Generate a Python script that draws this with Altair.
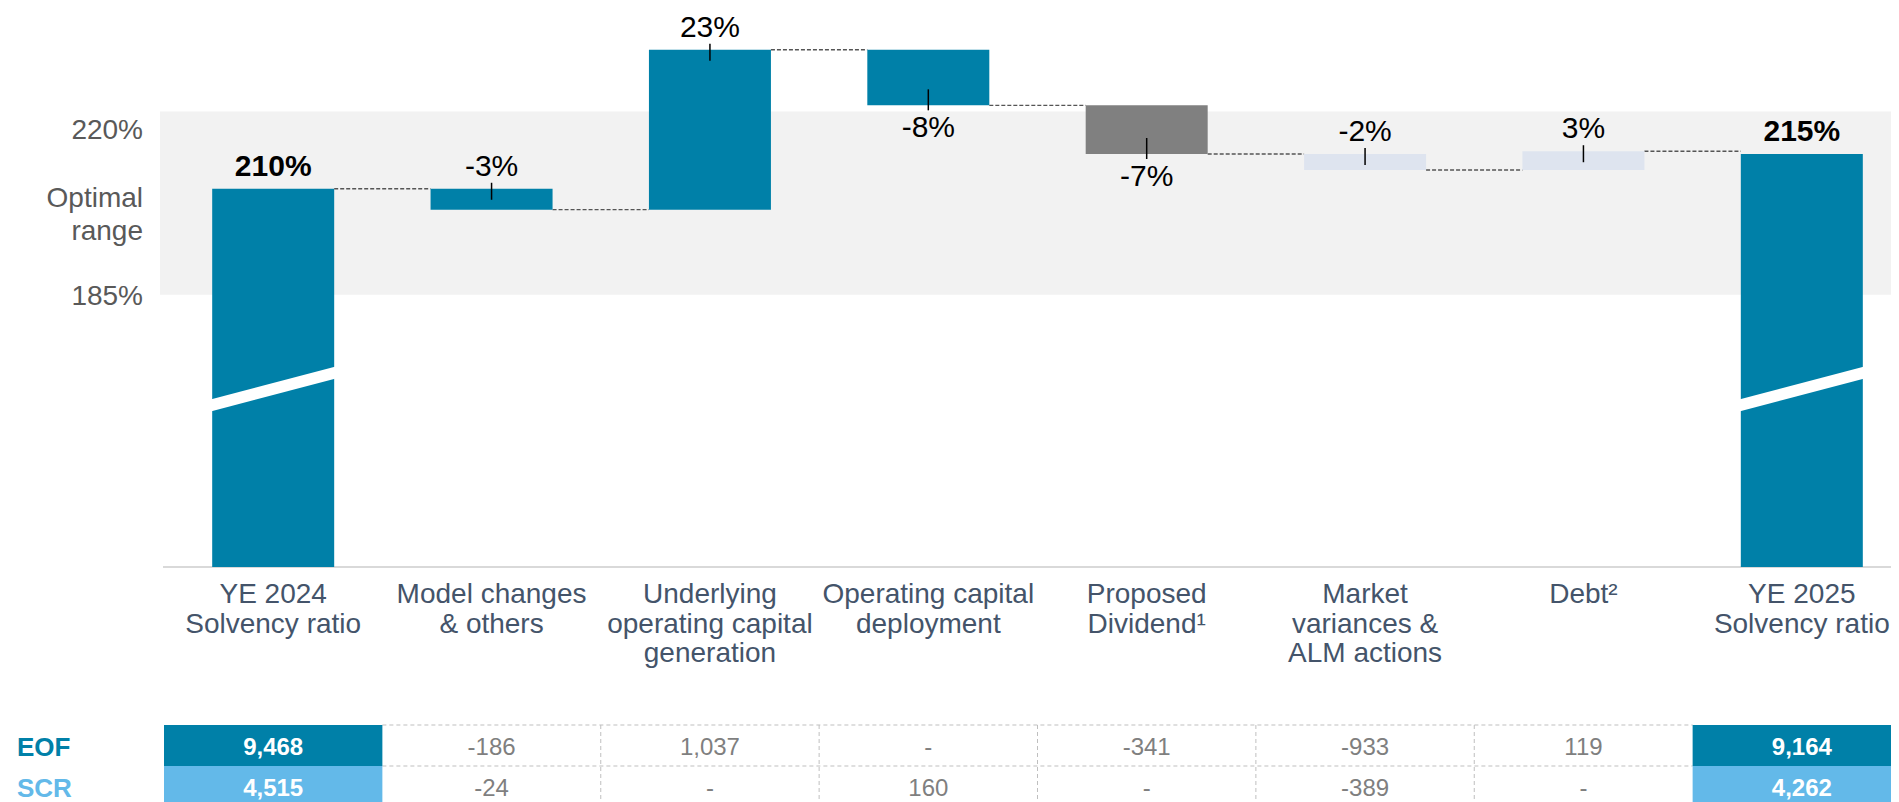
import altair as alt
import pandas as pd

# ---------------- data ----------------
categories = [
    "YE 2024\nSolvency ratio",
    "Model changes\n& others",
    "Underlying\noperating capital\ngeneration",
    "Operating capital\ndeployment",
    "Proposed\nDividend¹",
    "Market\nvariances &\nALM actions",
    "Debt²",
    "YE 2025\nSolvency ratio",
]
bar_kind = ["total", "step", "step", "step", "step", "step", "step", "total"]
ratio_after = [210, 207, 230, 222, 215, 212.7, 215.4, 215]   # solvency ratio (%) after each bar
value_labels = ["210%", "-3%", "23%", "-8%", "-7%", "-2%", "3%", "215%"]
label_side = ["above", "above", "above", "below", "below", "above", "above", "above"]
bar_group = ["solvency", "solvency", "solvency", "solvency", "dividend", "other", "other", "solvency"]

table_rows = ["EOF", "SCR"]
eof_values = ["9,468", "-186", "1,037", "-", "-341", "-933", "119", "9,164"]
scr_values = ["4,515", "-24", "-", "160", "-", "-389", "-", "4,262"]

range_labels = ["220%", "Optimal\nrange", "185%"]
band_extent = [221.1, 194.75]      # shaded optimal-range band as drawn on the ratio axis
break_levels = [178.7, 183.7]      # axis-break stripe on the total bars

# ---------------- layout / style ----------------
W, H = 1883, 794
FONT = "Liberation Sans, Arial, Helvetica, sans-serif"
TEAL = "#0080A8"
SKY = "#63B9E9"
GREY = "#808080"
PALE = "#DEE4EF"
x_range = [156, 1903]
half_step = (x_range[1] - x_range[0]) / len(categories) / 2
bar_w = 122

xs = alt.Scale(domain=categories, range=x_range, paddingInner=0, paddingOuter=0)
ys = alt.Scale(domain=[155.6, 236.0], range=[559, 0], clamp=True, nice=False, zero=False)
rs = alt.Scale(domain=table_rows, range=[717, 799], paddingInner=0, paddingOuter=0)


def X(field, **kw):
    return alt.X(field, type="nominal", scale=xs, axis=None, **kw)


def Y(field):
    return alt.Y(field, type="quantitative", scale=ys, axis=None)


def R(field, **kw):
    return alt.Y(field, type="nominal", scale=rs, axis=None, **kw)


# ---------------- frames ----------------
rows = []
for i, c in enumerate(categories):
    end = ratio_after[i]
    start = 0 if bar_kind[i] == "total" else ratio_after[i - 1]
    lo, hi = min(start, end), max(start, end)
    rows.append(dict(cat=c, lo=lo, hi=hi,
                     edge=hi if label_side[i] == "above" else lo,
                     group=bar_group[i], label=value_labels[i],
                     side=label_side[i], kind=bar_kind[i]))
bars = pd.DataFrame(rows)

conn = pd.DataFrame({"cat": categories[:-1], "next_cat": categories[1:], "level": ratio_after[:-1]})
brk = pd.DataFrame({"cat": [c for c, k in zip(categories, bar_kind) if k == "total"]})
brk["y_left"] = break_levels[0]
brk["y_right"] = break_levels[1]
band_df = pd.DataFrame({"top": [band_extent[0]], "bottom": [band_extent[1]]})
base_df = pd.DataFrame({"base": [0]})

cells = []
for r, vals in zip(table_rows, [eof_values, scr_values]):
    for i, (c, v) in enumerate(zip(categories, vals)):
        cells.append(dict(cat=c, row=r, value=v, is_end=(i == 0 or i == len(categories) - 1)))
cells = pd.DataFrame(cells)
vlines = pd.DataFrame({"cat": categories[2:-1], "row": table_rows[0]})
hlines = pd.DataFrame({"row": table_rows, "from": categories[1], "to": categories[-2]})

# ---------------- layers ----------------
band = alt.Chart(band_df).mark_rect(color="#F2F2F2").encode(
    x=alt.value(152), x2=alt.value(W), y=Y("top"), y2="bottom")

axis_line = alt.Chart(base_df).mark_rule(color="#D9D9D9", strokeWidth=2).encode(
    x=alt.value(155), x2=alt.value(W), y=Y("base"))

connectors = alt.Chart(conn).mark_rule(
    color="#555555", strokeWidth=1.4, strokeDash=[4, 2],
    xOffset=bar_w / 2, x2Offset=-bar_w / 2).encode(
    x=X("cat"), x2="next_cat", y=Y("level"))

bar_layer = alt.Chart(bars).mark_bar(width=bar_w).encode(
    x=X("cat"), y=Y("hi"), y2="lo",
    color=alt.Color("group:N", legend=None,
                    scale=alt.Scale(domain=["solvency", "dividend", "other"],
                                    range=[TEAL, GREY, PALE])))

breaks = alt.Chart(brk).mark_rule(
    color="white", strokeWidth=11.6, strokeCap="butt",
    xOffset=-(bar_w / 2 + 5), x2Offset=bar_w / 2 + 5).encode(
    x=X("cat"), x2="cat", y=Y("y_left"), y2="y_right")

ticks_above = alt.Chart(bars).transform_filter(
    "datum.kind == 'step' && datum.side == 'above'").mark_rule(
    color="black", strokeWidth=1.5, yOffset=-6, y2Offset=11).encode(
    x=X("cat"), y=Y("edge"), y2="edge")
ticks_below = alt.Chart(bars).transform_filter(
    "datum.kind == 'step' && datum.side == 'below'").mark_rule(
    color="black", strokeWidth=1.5, yOffset=-16, y2Offset=5).encode(
    x=X("cat"), y=Y("edge"), y2="edge")

lab_total = alt.Chart(bars).transform_filter("datum.kind == 'total'").mark_text(
    fontSize=30, fontWeight="bold", color="black", baseline="alphabetic", dy=-13).encode(
    x=X("cat"), y=Y("edge"), text="label")
lab_above = alt.Chart(bars).transform_filter(
    "datum.kind == 'step' && datum.side == 'above'").mark_text(
    fontSize=30, color="black", baseline="alphabetic", dy=-13).encode(
    x=X("cat"), y=Y("edge"), text="label")
lab_below = alt.Chart(bars).transform_filter(
    "datum.kind == 'step' && datum.side == 'below'").mark_text(
    fontSize=30, color="black", baseline="alphabetic", dy=32).encode(
    x=X("cat"), y=Y("edge"), text="label")

cat_labels = alt.Chart(pd.DataFrame({"cat": categories})).mark_text(
    fontSize=28, color="#44546A", lineBreak="\n", lineHeight=29.5,
    baseline="alphabetic", align="center").encode(
    x=X("cat"), y=alt.value(595), text="cat")

ylab_top = alt.Chart(band_df).mark_text(
    text=range_labels[0], fontSize=28, color="#595959", align="right",
    baseline="alphabetic", dy=27).encode(x=alt.value(135), y=Y("top"))
ylab_mid = alt.Chart(band_df).mark_text(
    text=range_labels[1], fontSize=28, color="#595959", align="right",
    baseline="alphabetic", dy=95, lineBreak="\n", lineHeight=33).encode(
    x=alt.value(135), y=Y("top"))
ylab_bot = alt.Chart(band_df).mark_text(
    text=range_labels[2], fontSize=28, color="#595959", align="right",
    baseline="alphabetic", dy=10).encode(x=alt.value(135), y=Y("bottom"))

grid_v = alt.Chart(vlines).mark_rule(color="#BFBFBF", strokeWidth=1, strokeDash=[4, 3]).encode(
    x=X("cat", bandPosition=0), y=R("row", bandPosition=0), y2=alt.value(H + 10))
grid_h = alt.Chart(hlines).mark_rule(
    color="#BFBFBF", strokeWidth=1, strokeDash=[4, 3],
    xOffset=-half_step, x2Offset=half_step).encode(
    x=X("from"), x2="to", y=R("row", bandPosition=0))

cell_fill = alt.Chart(cells).transform_filter("datum.is_end").mark_rect().encode(
    x=X("cat"), y=R("row"),
    color=alt.Color("row:N", legend=None,
                    scale=alt.Scale(domain=table_rows, range=[TEAL, SKY])))

txt_mid = alt.Chart(cells).transform_filter("!datum.is_end").mark_text(
    fontSize=24, color="#7F7F7F", baseline="middle", dy=2).encode(
    x=X("cat"), y=R("row"), text="value")
txt_end = alt.Chart(cells).transform_filter("datum.is_end").mark_text(
    fontSize=24, fontWeight="bold", color="white", baseline="middle", dy=2).encode(
    x=X("cat"), y=R("row"), text="value")

row_labels = alt.Chart(pd.DataFrame({"row": table_rows})).mark_text(
    fontSize=26, fontWeight="bold", align="left", baseline="middle", dy=2).encode(
    x=alt.value(9), y=R("row"), text="row",
    color=alt.Color("row:N", legend=None,
                    scale=alt.Scale(domain=table_rows, range=[TEAL, SKY])))

chart = alt.layer(
    band, axis_line, connectors, bar_layer, breaks,
    ticks_above, ticks_below, lab_total, lab_above, lab_below,
    cat_labels, ylab_top, ylab_mid, ylab_bot,
    grid_v, grid_h, cell_fill, txt_mid, txt_end, row_labels,
).resolve_scale(y="independent", color="independent").properties(
    width=W, height=H, padding=0, background="white",
    autosize=alt.AutoSizeParams(type="none"),
).configure_view(strokeWidth=0).configure_text(font=FONT)

chart.save("out.html", embed_options={"renderer": "svg", "actions": False})
